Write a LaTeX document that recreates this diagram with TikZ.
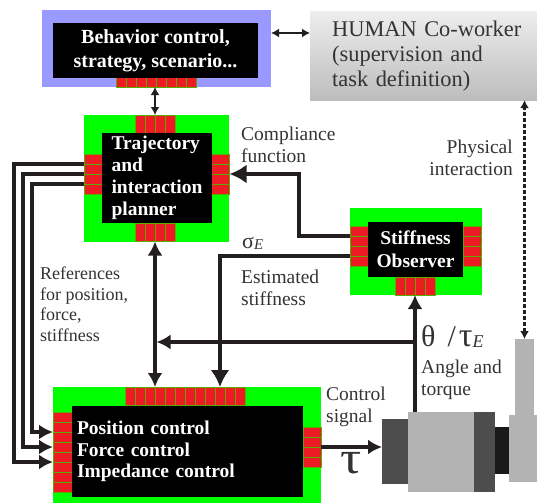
\documentclass[tikz,border=0pt]{standalone}
\usepackage{fontspec}
\setmainfont{Liberation Serif}
\usetikzlibrary{arrows.meta}

\begin{document}
\begin{tikzpicture}[x=1pt, y=-1pt, >={Latex[length=14pt,width=15pt]}]

\definecolor{chipgreen}{RGB}{0, 255, 0}
\definecolor{padred}{RGB}{237, 28, 36}
\definecolor{padline}{RGB}{90, 170, 0}
\definecolor{lavender}{RGB}{153, 153, 255}
\definecolor{inkgray}{RGB}{51, 51, 51}
\definecolor{wire}{RGB}{35, 31, 32}
\definecolor{motordark}{RGB}{77, 77, 77}
\definecolor{motorlight}{RGB}{179, 179, 179}
\definecolor{shaftblack}{RGB}{26, 26, 26}

\useasboundingbox (0,0) rectangle (537,503);

\tikzset{
    frame/.style={fill=#1, inner sep=0pt, outer sep=0pt},
    core/.style={
        fill=black, inner sep=0pt, outer sep=0pt, text=white,
        font=\fontsize{19.5}{22}\selectfont\bfseries
    },
    pad/.style={fill=padred, draw=padline, line width=0.7pt, inner sep=0pt, outer sep=0pt},
    rowpad/.style={pad, minimum width=10pt, minimum height=#1},
    rowpad/.default=18pt,
    colpad/.style={pad, minimum width=#1, minimum height=10pt},
    colpad/.default=18pt,
    sig/.style={draw=wire, line width=3.8pt},
    bigtip/.style={>={Latex[length=17pt,width=19pt]}},
    fine/.style={draw=wire, line width=2.2pt, >={Latex[length=8pt,width=9pt]}},
    ref/.style={draw=wire, line width=3.3pt},
    note/.style={
        text=inkgray, inner sep=0pt, align=left,
        font=\fontsize{19.5}{21.5}\selectfont
    },
    motorpart/.style={fill=#1, inner sep=0pt, outer sep=0pt}
}

% BEHAVIOR LEVEL
\node[frame=lavender, minimum width=229pt, minimum height=77pt] (behF) at (156.5,48.5) {};
\foreach \i in {1,...,8}
    \node[rowpad=10pt] (B-b\i) at (111+10*\i, 82) {};
\node[core, minimum width=205pt, minimum height=55pt, align=center,
      font=\fontsize{20}{24}\selectfont\bfseries] (beh) at (155.5,50.5)
    {Behavior control,\\strategy, scenario...};

% Human co-worker
\node[anchor=west, top color=black!7, bottom color=black!26, draw=none,
      minimum width=240pt, minimum height=88pt, inner xsep=22pt,
      text width=200pt, align=left, text=inkgray,
      font=\fontsize{22.4}{25}\selectfont] (human) at (310,56)
    {HUMAN Co-worker\\(supervision and\\task definition)};

% TRAJECTORY PLANNER
\node[frame=chipgreen, minimum width=145pt, minimum height=127pt] (trajF) at (156.5,178.5) {};
\foreach \i in {1,...,4} {
    \node[rowpad] (T-t\i) at (130+10*\i, 124) {};
    \node[rowpad] (T-b\i) at (130+10*\i, 232.5) {};
    \node[colpad] (T-l\i) at (93, 149+10*\i) {};
    \node[colpad] (T-r\i) at (220.5, 149+10*\i) {};
}
\node[core, minimum width=110pt, minimum height=90pt, align=left] (traj) at (157,178)
    {Trajectory\\and\\interaction\\planner};

% STIFFNESS OBSERVER
\node[frame=chipgreen, minimum width=132pt, minimum height=87pt] (obsF) at (416,251.5) {};
\foreach \i in {1,...,4} {
    \node[colpad] (S-l\i) at (359, 221+10*\i) {};
    \node[colpad] (S-r\i) at (472.5, 221+10*\i) {};
    \node[rowpad] (S-b\i) at (390+10*\i, 286) {};
}
\node[core, minimum width=95pt, minimum height=55pt, align=center,
      font=\fontsize{19.5}{23}\selectfont\bfseries] (obs) at (415.5,249.5)
    {Stiffness\\Observer};

% LOW-LEVEL CONTROLLER
\node[frame=chipgreen, minimum width=268pt, minimum height=116pt] (ctrlF) at (187,445) {};
\foreach \i in {1,...,12}
    \node[rowpad] (P-t\i) at (120+10*\i, 396) {};
\foreach \i in {1,...,8}
    \node[colpad=19pt] (P-l\i) at (62.5, 407+10*\i) {};
\foreach \i in {1,...,4}
    \node[colpad] (P-r\i) at (312, 422+10*\i) {};
\node[core, minimum width=231pt, minimum height=91pt, text width=221pt, align=left,
      font=\fontsize{19.5}{21.5}\selectfont\bfseries] (ctrl) at (187.5,451.5)
    {Position control\\Force control\\Impedance control};

% Motor and link
\node[motorpart=motordark, minimum width=26pt, minimum height=65pt] (endcap) at (395,451.5) {};
\node[motorpart=motorlight, minimum width=66pt, minimum height=80pt] (motor) at (441,452) {};
\node[motorpart=motordark, minimum width=21pt, minimum height=80pt] (flange) at (484.5,452) {};
\node[motorpart=shaftblack, minimum width=14pt, minimum height=47pt] (shaft) at (502,450.5) {};
\node[motorpart=motorlight, minimum width=28pt, minimum height=67pt] (joint) at (523,448.5) {};
\node[motorpart=motorlight, minimum width=19pt, minimum height=76pt] (link) at (524.5,377) {};

% --- CONNECTIONS ---

\draw[fine, <->] (behF.east |- 0,33) -- (human.west |- 0,33);
\draw[fine, <->] (T-t2.north east |- B-b4.south) -- (T-t2.north east);
\draw[sig, <->] (T-b2.south east) -- (P-t3.north east);

% references to the controller
\draw[ref, ->] (T-l1.south west) -- ++(-70,0) |- (P-l5.south west);
\draw[ref, ->] (T-l2.south west) -- ++(-61,0) |- (P-l4.west);
\draw[ref, ->] (T-l3.south west) -- ++(-52,0) |- (P-l2.south west);

% observer outputs
\draw[sig, bigtip, ->] (S-l1.south west) -- ++(-51,0) |- (T-r2.south east);
\draw[sig, bigtip, ->] (S-l3.south west) -| (P-t10.north);

% sensing and feedback
\draw[sig, ->] (S-b2.south east |- motor.north) -- (S-b2.south east);
\coordinate (tap) at (S-b2.south east |- 0,342);
\draw[sig, ->, shorten >=1.5pt] (tap) -- (tap -| T-b2.south east);

% command to the motor
\draw[sig, ->] (P-r2.south east) -- (P-r2.south east -| endcap.west);

% physical interaction
\draw[fine, <->, line width=2.5pt, dash pattern=on 4pt off 2pt] (link.north) -- (link.north |- human.south);

% Labels
\node[note, anchor=west] (compl) at (241,145) {Compliance\\function};
\node[note, anchor=west, font=\fontsize{22}{22}\selectfont] (sigma) at (242,243)
    {σ\raisebox{-1pt}{\fontsize{15}{15}\selectfont\itshape E}};
\node[note, anchor=west] (estim) at (241,288) {Estimated\\stiffness};
\node[note, anchor=west, font=\fontsize{18}{20.5}\selectfont] (refs) at (40,304)
    {References\\for position,\\force,\\stiffness};
\node[note, anchor=east, align=right] (phys) at (513,158) {Physical\\interaction};
\node[note, anchor=west] (csig) at (326,407) {Control\\signal};
\node[note, anchor=west, font=\fontsize{46}{46}\selectfont] (tau) at (340,463)
    {\scalebox{1.15}[1]{τ}};
\node[note, anchor=west, font=\fontsize{30}{30}\selectfont] (theta) at (421,337)
    {θ\hspace{12pt}/\hspace{3pt}{\fontsize{34}{34}\selectfont τ}\raisebox{-1pt}{\fontsize{18}{18}\selectfont\itshape E}};
\node[note, anchor=west] (angle) at (421,380) {Angle and\\torque};

\end{tikzpicture}
\end{document}
